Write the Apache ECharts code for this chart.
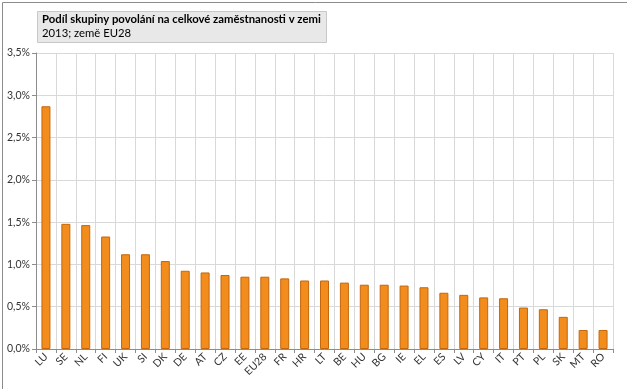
<!DOCTYPE html>
<html>
<head>
<meta charset="utf-8">
<script src="https://cdn.jsdelivr.net/npm/echarts@6/dist/echarts.min.js"></script>
<style>html,body{margin:0;padding:0;background:#fff}#c{width:627px;height:389px}</style>
</head>
<body>
<div id="c"></div>
<script>
const categories = ['LU','SE','NL','FI','UK','SI','DK','DE','AT','CZ','EE','EU28','FR','HR','LT','BE','HU','BG','IE','EL','ES','LV','CY','IT','PT','PL','SK','MT','RO'];
const values = [2.87,1.48,1.465,1.33,1.12,1.12,1.04,0.925,0.905,0.875,0.855,0.855,0.835,0.81,0.81,0.785,0.76,0.76,0.75,0.73,0.665,0.64,0.61,0.60,0.49,0.47,0.38,0.225,0.225];
const titleText = 'Podíl skupiny povolání na celkové zaměstnanosti v zemi';
const subText = '2013; země EU28';
const FONT = 'Lato, "Open Sans", sans-serif';

const chart = echarts.init(document.getElementById('c'), null, {renderer: 'canvas'});
chart.setOption({
  animation: false,
  backgroundColor: '#fff',
  textStyle: {fontFamily: FONT},
  grid: {left: 36, right: 14, top: 53, bottom: 40, containLabel: false},
  graphic: [
    {type: 'rect', left: 0, top: 0, shape: {width: 626, height: 388}, style: {fill: 'none', stroke: '#8c8c8c', lineWidth: 1}, z: 100},
    {type: 'rect', left: 37, top: 11, shape: {width: 289, height: 31}, style: {fill: '#e8e8e8', stroke: '#c8c8c8', lineWidth: 1}, z: 50},
    {type: 'text', left: 42, top: 14, style: {text: titleText, font: 'bold 11.3px ' + FONT, fill: '#000'}, z: 51},
    {type: 'text', left: 42, top: 28, style: {text: subText, font: '11.3px ' + FONT, fill: '#000'}, z: 51}
  ],
  xAxis: {
    type: 'category',
    data: categories,
    axisLine: {lineStyle: {color: '#8c8c8c'}},
    axisTick: {show: true, interval: 0, length: 4, lineStyle: {color: '#8c8c8c'}},
    splitLine: {show: true, interval: 0, lineStyle: {color: '#d9d9d9'}},
    axisLabel: {interval: 0, rotate: 45, fontSize: 10.5, color: '#333', margin: 6, fontFamily: FONT}
  },
  yAxis: {
    type: 'value',
    min: 0, max: 3.5, interval: 0.5,
    axisLine: {show: true, lineStyle: {color: '#8c8c8c'}},
    axisTick: {show: true, length: 4, lineStyle: {color: '#8c8c8c'}},
    splitLine: {show: true, lineStyle: {color: '#d9d9d9'}},
    axisLabel: {fontSize: 10.5, color: '#333', margin: 6, fontFamily: FONT,
      formatter: v => v.toFixed(1).replace('.', ',') + '%'}
  },
  series: [{
    type: 'bar',
    data: values,
    barWidth: 9,
    itemStyle: {color: '#f28c1c', borderColor: '#c4660c', borderWidth: 1}
  }]
});
</script>
</body>
</html>
